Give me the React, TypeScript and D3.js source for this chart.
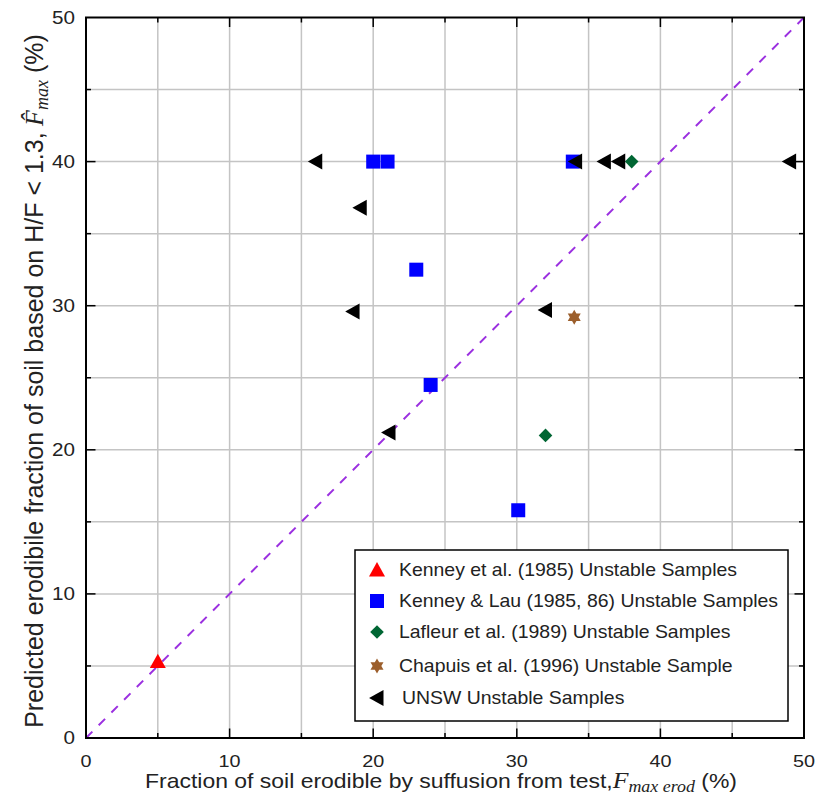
import React from "react";
import * as d3 from "d3";

const kenneyX = [5];
const kenneyY = [5.3];
const kenneyLauX = [20, 21, 23, 24, 30.1, 33.9];
const kenneyLauY = [40, 40, 32.5, 24.5, 15.8, 40];
const lafleurX = [38, 32];
const lafleurY = [40, 21];
const chapuisX = [34];
const chapuisY = [29.2];
const unswX = [16, 19.1, 18.6, 21.1, 32, 34.1, 36.1, 37.1, 49];
const unswY = [40, 36.8, 29.6, 21.2, 29.7, 40, 40, 40, 40];

const xTickLabels = [0, 10, 20, 30, 40, 50];
const yTickLabels = [0, 10, 20, 30, 40, 50];
const gridValues = [5, 10, 15, 20, 25, 30, 35, 40, 45];
const minorTicks = [5, 15, 25, 35, 45];
const majorTicks = [10, 20, 30, 40];

const legendLabels = [
  "Kenney et al. (1985) Unstable Samples",
  "Kenney & Lau (1985, 86) Unstable Samples",
  "Lafleur et al. (1989) Unstable Samples",
  "Chapuis et al. (1996) Unstable Sample",
  "UNSW Unstable Samples",
];

const W = 817;
const H = 797;
const L = 86, R = 804, T = 17.5, B = 738;

const x = d3.scaleLinear().domain([0, 50]).range([L, R]);
const y = d3.scaleLinear().domain([0, 50]).range([B, T]);

const FONT = "'Liberation Sans', Arial, sans-serif";
const SERIF = "'Liberation Serif', 'Times New Roman', serif";
const TXT = "#222";

function triUp(cx: number, cy: number, s = 16) {
  const h = s * 0.9;
  return `M${cx},${cy - h * 0.55} L${cx + s / 2},${cy + h * 0.45} L${cx - s / 2},${cy + h * 0.45} Z`;
}
function triLeft(cx: number, cy: number, s = 16) {
  const w = s * 0.9;
  return `M${cx - w * 0.55},${cy} L${cx + w * 0.45},${cy - s / 2} L${cx + w * 0.45},${cy + s / 2} Z`;
}
function diamond(cx: number, cy: number, r = 6.8) {
  return `M${cx},${cy - r} L${cx + r},${cy} L${cx},${cy + r} L${cx - r},${cy} Z`;
}
function hexStar(cx: number, cy: number, r = 7.5) {
  const pts: string[] = [];
  for (let i = 0; i < 12; i++) {
    const a = (Math.PI / 6) * i - Math.PI / 2;
    const rr = i % 2 === 0 ? r : r * 0.58;
    pts.push(`${cx + rr * Math.cos(a)},${cy + rr * Math.sin(a)}`);
  }
  return `M${pts.join(" L")} Z`;
}

const RED = "#ff0000";
const BLUE = "#0000ff";
const GREEN = "#006633";
const BROWN = "#9c5f2c";
const BLACK = "#000";

function markerPath(idx: number, cx: number, cy: number) {
  switch (idx) {
    case 0: return triUp(cx, cy);
    case 1: return `M${cx - 7},${cy - 7} h14 v14 h-14 Z`;
    case 2: return diamond(cx, cy);
    case 3: return hexStar(cx, cy);
    default: return triLeft(cx, cy);
  }
}
const colors = [RED, BLUE, GREEN, BROWN, BLACK];

export default function App() {
  const series = [
    { xs: kenneyX, ys: kenneyY },
    { xs: kenneyLauX, ys: kenneyLauY },
    { xs: lafleurX, ys: lafleurY },
    { xs: chapuisX, ys: chapuisY },
    { xs: unswX, ys: unswY },
  ];
  const legX = 355, legY = 550, legW = 433, legH = 171;
  const rowYs = [570, 601, 632, 666, 698];
  const SX = 1.12;

  return (
    <svg width={W} height={H} style={{ position: "absolute", left: 0, top: 0, background: "#fff" }}>
      <rect x={0} y={0} width={W} height={H} fill="#fff" />
      {/* grid */}
      {gridValues.map((v) => (
        <g key={"g" + v}>
          <line x1={x(v)} x2={x(v)} y1={T} y2={B} stroke="#c4c4c4" strokeWidth={1.5} />
          <line x1={L} x2={R} y1={y(v)} y2={y(v)} stroke="#c4c4c4" strokeWidth={1.5} />
        </g>
      ))}
      {/* ticks */}
      {[...minorTicks.map((v) => [v, 5]), ...majorTicks.map((v) => [v, 9.5])].map(([v, len]) => (
        <g key={"t" + v} stroke="#000" strokeWidth={1.5}>
          <line x1={x(v)} x2={x(v)} y1={B} y2={B - len} />
          <line x1={x(v)} x2={x(v)} y1={T} y2={T + len} />
          <line x1={L} x2={L + len} y1={y(v)} y2={y(v)} />
          <line x1={R} x2={R - len} y1={y(v)} y2={y(v)} />
        </g>
      ))}
      {/* diagonal */}
      <line x1={x(0)} y1={y(0)} x2={x(50)} y2={y(50)} stroke="#9b30e0" strokeWidth={2} strokeDasharray="9,9" />
      {/* frame */}
      <rect x={L} y={T} width={R - L} height={B - T} fill="none" stroke="#000" strokeWidth={2} />
      {/* tick labels */}
      {xTickLabels.map((v) => (
        <g key={"xl" + v} transform={`translate(${x(v)},767) scale(1.18,1)`}>
          <text textAnchor="middle" fontFamily={FONT} fontSize={16.8} fill={TXT}>{v}</text>
        </g>
      ))}
      {yTickLabels.map((v) => (
        <g key={"yl" + v} transform={`translate(75,${y(v)}) scale(1.18,1)`}>
          <text dy="0.36em" textAnchor="end" fontFamily={FONT} fontSize={17.5} fill={TXT}>{v}</text>
        </g>
      ))}
      {/* points */}
      {series.map((s, i) => (
        <g key={"s" + i} fill={colors[i]}>
          {s.xs.map((xv, j) => (
            <path key={j} d={markerPath(i, x(xv), y(s.ys[j]))} />
          ))}
        </g>
      ))}
      {/* legend */}
      <rect x={legX} y={legY} width={legW} height={legH} fill="#fff" stroke="#000" strokeWidth={1.5} />
      {legendLabels.map((lab, i) => (
        <g key={"lg" + i}>
          <path d={markerPath(i, 377, rowYs[i])} fill={colors[i]} />
          <g transform={`translate(${i === 4 ? 402 : 399},${rowYs[i]}) scale(1.08,1)`}>
            <text dy="0.35em" fontFamily={FONT} fontSize={18} fill={TXT}>{lab}</text>
          </g>
        </g>
      ))}
      {/* x label */}
      <g transform={`translate(441,788) scale(${SX},1)`}>
        <text textAnchor="middle" fontFamily={FONT} fontSize={20.5} fill={TXT}>
          Fraction of soil erodible by suffusion from test,
          <tspan fontFamily={SERIF} fontStyle="italic" fontSize={23}>F</tspan>
          <tspan fontFamily={SERIF} fontStyle="italic" fontSize={16} dy={4}>max  erod</tspan>
          <tspan dy={-4}> (%)</tspan>
        </text>
      </g>
      {/* y label */}
      <text transform={`translate(43,381) rotate(-90)`} textAnchor="middle" fontFamily={FONT} fontSize={25} fill={TXT}>
        Predicted erodibile fraction of soil based on H/F &lt; 1.3,
        <tspan fontFamily={SERIF} fontStyle="italic" fontSize={26}> F̂</tspan>
        <tspan fontFamily={SERIF} fontStyle="italic" fontSize={18} dy={5}>max</tspan>
        <tspan dy={-5}>   (%)</tspan>
      </text>
    </svg>
  );
}
